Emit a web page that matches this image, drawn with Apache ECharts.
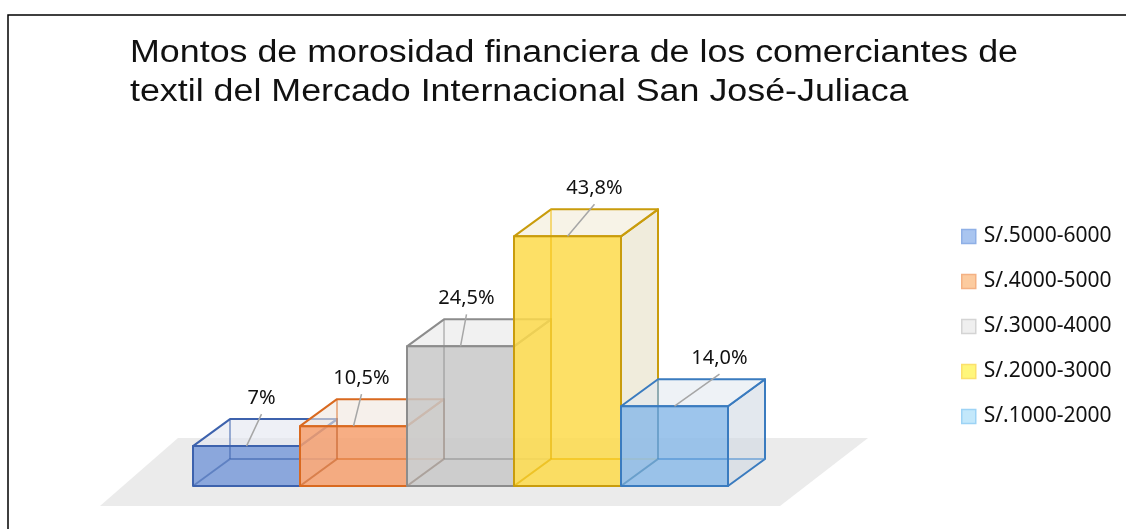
<!DOCTYPE html>
<html>
<head>
<meta charset="utf-8">
<script src="https://cdn.jsdelivr.net/npm/echarts@6/dist/echarts.min.js"></script>
<style>html,body{margin:0;padding:0;background:#fff}#c{width:1126px;height:529px}</style>
</head>
<body>
<div id="c"></div>
<script>
// ---- data ----
var categories = ['S/.5000-6000', 'S/.4000-5000', 'S/.3000-4000', 'S/.2000-3000', 'S/.1000-2000'];
var values = [7, 10.5, 24.5, 43.8, 14.0];
var valueLabels = ['7%', '10,5%', '24,5%', '43,8%', '14,0%'];
var titleLines = ['Montos de morosidad financiera de los comerciantes de', 'textil del Mercado Internacional San José-Juliaca'];

// ---- styles ----
var barStyles = [
  {front: 'rgba(122,155,217,0.85)', edge: '#3d62ad', inner: 'rgba(61,98,173,0.55)', top: 'rgba(227,230,240,0.6)', side: 'rgba(215,222,238,0.6)', lf: '#a9c5f0', lb: '#8fb0e6'},
  {front: 'rgba(246,160,110,0.85)', edge: '#d9691f', inner: 'rgba(217,105,31,0.5)', top: 'rgba(240,230,222,0.6)', side: 'rgba(240,225,212,0.6)', lf: '#fccb9f', lb: '#f4b183'},
  {front: 'rgba(200,200,200,0.85)', edge: '#8c8c8c', inner: 'rgba(140,140,140,0.5)', top: 'rgba(232,232,232,0.6)', side: 'rgba(225,225,225,0.6)', lf: '#efefef', lb: '#d4d4d4'},
  {front: 'rgba(253,219,75,0.85)', edge: '#c99c0c', inner: 'rgba(240,185,0,0.55)', top: 'rgba(242,235,215,0.6)', side: 'rgba(230,223,197,0.6)', lf: '#fff67b', lb: '#fbe06c'},
  {front: 'rgba(140,187,233,0.85)', edge: '#3a7bbf', inner: 'rgba(70,140,210,0.55)', top: 'rgba(227,234,240,0.6)', side: 'rgba(208,217,227,0.6)', lf: '#c3e8fb', lb: '#9dd3f5'}
];
var leaderDx = [15, 8, 6, 27, 45];
var DX = 37, DY = 27;

function barRender(si) {
  return function (params, api) {
    var idx = api.value(0), val = api.value(1);
    var b = api.coord([idx, 0]), t = api.coord([idx, val]);
    var bw = api.size([1, 0])[0];
    var x0 = b[0] - bw / 2, x1 = b[0] + bw / 2, yb = b[1], yt = t[1];
    var s = barStyles[si];
    var cx = b[0];
    var ldx = leaderDx[si];
    return {
      type: 'group',
      children: [
        {type: 'polygon', shape: {points: [[x1, yb], [x1 + DX, yb - DY], [x1 + DX, yt - DY], [x1, yt]]},
          style: {fill: s.side, stroke: s.edge, lineWidth: 2, lineJoin: 'round'}},
        {type: 'polygon', shape: {points: [[x0, yt], [x0 + DX, yt - DY], [x1 + DX, yt - DY], [x1, yt]]},
          style: {fill: s.top, stroke: s.edge, lineWidth: 2, lineJoin: 'round'}},
        {type: 'rect', shape: {x: x0, y: yt, width: x1 - x0, height: yb - yt},
          style: {fill: s.front, stroke: null}},
        {type: 'polyline', shape: {points: [[x0, yb], [x0 + DX, yb - DY], [x1 + DX, yb - DY]]},
          style: {fill: null, stroke: s.inner, lineWidth: 1.8}},
        {type: 'line', shape: {x1: x0 + DX, y1: yb - DY, x2: x0 + DX, y2: yt - DY},
          style: {stroke: s.inner, lineWidth: 1.8}},
        {type: 'rect', shape: {x: x0, y: yt, width: x1 - x0, height: yb - yt},
          style: {fill: null, stroke: s.edge, lineWidth: 2, lineJoin: 'round'}},
        {type: 'line', shape: {x1: cx, y1: yt, x2: cx + ldx, y2: yt - 32},
          style: {stroke: '#a6a6a6', lineWidth: 1.5}},
        {type: 'text', style: {text: valueLabels[si], x: cx + ldx, y: yt - 48, fill: '#111',
          font: '20px "Noto Sans"', align: 'center', verticalAlign: 'middle'}}
      ]
    };
  };
}

function floorRender(params, api) {
  var a = api.coord([0, 0]), z = api.coord([categories.length - 1, 0]);
  var bw = api.size([1, 0])[0];
  var l = a[0] - bw / 2, r = z[0] + bw / 2, y = a[1];
  return {type: 'polygon', shape: {points: [[l - 93, y + 20], [r + 52, y + 20], [r + 140, y - 48], [l - 15, y - 48]]},
    style: {fill: '#ebebeb'}};
}

var series = [{type: 'custom', name: '_floor', silent: true, clip: false, data: [[0, 0]], renderItem: floorRender, encode: {x: 0, y: 1}}];
categories.forEach(function (c, i) {
  series.push({type: 'custom', name: c, clip: false, data: [[i, values[i]]], renderItem: barRender(i), encode: {x: 0, y: 1}, itemStyle: {color: barStyles[i].lf}});
});

// title measuring
var cv = document.createElement('canvas').getContext('2d');
var titleFont = '31px "Liberation Sans"';
cv.font = titleFont;
var w1 = cv.measureText(titleLines[0]).width;
var sx = 888 / w1;

var chart = echarts.init(document.getElementById('c'), null, {renderer: 'canvas'});
chart.setOption({
  animation: false,
  backgroundColor: '#fff',
  grid: {left: 193, top: 201, width: 535, height: 285},
  xAxis: {type: 'category', data: categories, show: false},
  yAxis: {type: 'value', min: 0, max: 50, show: false},
  legend: {
    orient: 'vertical', left: 961, top: 226, padding: 0, itemWidth: 14, itemHeight: 14, itemGap: 24,
    icon: 'rect', selectedMode: false,
    textStyle: {fontFamily: 'Noto Sans', fontSize: 21, color: '#111', padding: [0, 0, 0, 3]},
    data: categories.map(function (c, i) {
      return {name: c, itemStyle: {color: barStyles[i].lf, borderColor: barStyles[i].lb, borderWidth: 1.5}};
    })
  },
  graphic: [
    {type: 'rect', shape: {x: 8, y: 15, width: 1200, height: 600}, style: {fill: null, stroke: '#000', lineWidth: 1.5}, silent: true},
    {type: 'text', x: 130, y: 53, scaleX: sx, style: {text: titleLines[0], x: 0, y: 0, font: titleFont, fill: '#111', align: 'left', verticalAlign: 'middle'}},
    {type: 'text', x: 130, y: 92, scaleX: sx, style: {text: titleLines[1], x: 0, y: 0, font: titleFont, fill: '#111', align: 'left', verticalAlign: 'middle'}}
  ],
  series: series
});
</script>
</body>
</html>
